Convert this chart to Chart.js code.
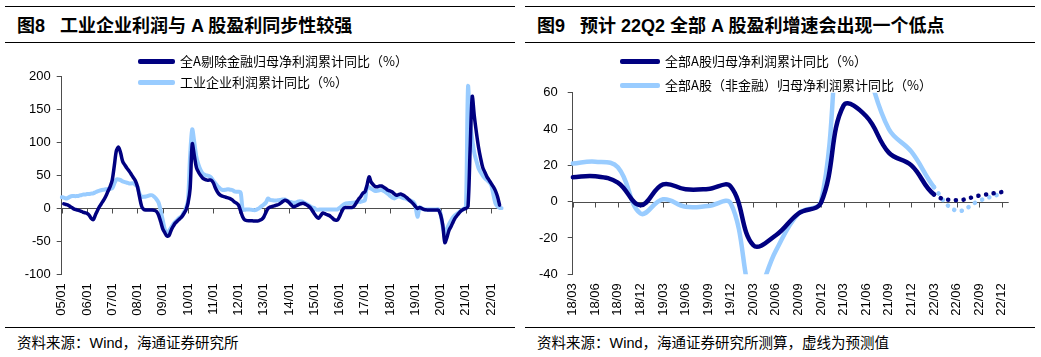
<!DOCTYPE html>
<html>
<head>
<meta charset="utf-8">
<script src="https://cdn.jsdelivr.net/npm/chart.js@4.4.1/dist/chart.umd.min.js"></script>
<style>
  html,body{margin:0;padding:0;background:#fff;}
  body{width:1041px;height:357px;position:relative;overflow:hidden;font-family:"Liberation Sans","Noto Sans CJK SC",sans-serif;}
  .hr{position:absolute;height:0;border-top:1.5px solid #000;}
  .title{position:absolute;font-weight:bold;font-size:18px;line-height:20px;white-space:nowrap;color:#000;}
  .foot{position:absolute;font-size:14.5px;line-height:18px;white-space:nowrap;color:#000;}
  canvas{position:absolute;}
  .leg{position:absolute;font-family:"Noto Sans CJK SC",sans-serif;font-size:13px;line-height:16px;white-space:nowrap;color:#000;}
  .sw{position:absolute;height:5px;border-radius:2px;}
</style>
</head>
<body>
<div class="hr" style="left:5px;top:6px;width:510px"></div>
<div class="hr" style="left:5px;top:42px;width:510px"></div>
<div class="title" style="left:17px;top:16px">图8<span style="margin-left:15px">工业企业利润与 A 股盈利同步性较强</span></div>
<div class="hr" style="left:525px;top:6px;width:510px"></div>
<div class="hr" style="left:525px;top:42px;width:510px"></div>
<div class="title" style="left:537px;top:16px">图9<span style="margin-left:15px">预计 22Q2 全部 A 股盈利增速会出现一个低点</span></div>

<canvas id="c1" width="520" height="282" style="left:0;top:45px"></canvas>
<canvas id="c2" width="521" height="282" style="left:520px;top:45px"></canvas>
<div id="leg1"></div>
<div id="leg2"></div>

<div class="hr" style="left:5px;top:327px;width:510px"></div>
<div class="foot" style="left:17px;top:334px">资料来源：Wind，海通证券研究所</div>
<div class="hr" style="left:525px;top:327px;width:510px"></div>
<div class="foot" style="left:537px;top:334px">资料来源：Wind，海通证券研究所测算，虚线为预测值</div>

<script>
// ---------- Left chart data (monthly, 05/01 .. 22/06) ----------
const leftTickLabels = ['05/01','06/01','07/01','08/01','09/01','10/01','11/01','12/01','13/01','14/01','15/01','16/01','17/01','18/01','19/01','20/01','21/01','22/01'];
const leftMonths = [];
for (let y = 5; y <= 22; y++) {
  for (let m = 1; m <= 12; m++) {
    if (y === 22 && m > 6) break;
    leftMonths.push(String(y).padStart(2,'0') + '/' + String(m).padStart(2,'0'));
  }
}
const leftSeriesNames = ['全A剔除金融归母净利润累计同比（%）', '工业企业利润累计同比（%）'];
const aShareExFin = [
  null, 7, 6, 5, 3, 1, -1, -2, -3, -4, -5.5, -6.5,            // 2005
  -7.5, -10, -15, -17, -10, -3, 3, 8, 13, 19, 26, 33,          // 2006
  43, 65, 88, 93, 84, 71, 66, 61, 57, 52, 47, 42,              // 2007
  33, 17, 3, -1.5, -2.5, -2.5, -2.5, -2.5, -3, -4.5, -10, -20, // 2008
  -31, -37, -42, -41, -33, -27, -22, -19, -16, -12.7, -8, -2.5,// 2009
  8, 30, 98, 80, 62, 55, 50, 46, 44, 43, 43, 43,               // 2010
  39, 31, 25, 21, 19, 18, 17, 16, 15, 13, 10, 8,               // 2011
  5, -4, -13, -17.5, -18.5, -18.7, -18.7, -19, -19, -19, -18, -16.5, // 2012
  -13, -6, 0, 2, 3, 4, 5, 6, 8, 10.5, 12.5, 11.5,              // 2013
  9, 5.5, 2.5, 3.5, 5, 6.5, 7.5, 7.6, 6, 4, 1.5, -3,           // 2014
  -8, -12.5, -15, -11, -7, -8, -9.5, -10.5, -13, -16, -17.7, -17.5, // 2015
  -12, -5, 0.5, 1.5, 1.5, 1.5, 1.5, 4, 9, 14, 17.7, 23,        // 2016
  25, 35, 48, 40, 36, 33, 33, 34, 34, 32, 30, 27.5,            // 2017
  26.5, 25, 22, 20, 21, 21.8, 20.5, 18.7, 16, 13, 10, 7,       // 2018
  3, 0, 1.5, 0, -1.5, -2, -2.5, -2.5, -2.5, -2.5, -2.5, -2.5,  // 2019
  -10, -25, -52, -44, -33, -27, -20, -14, -10, -6, -3, -1,     // 2020
  0, 3, 90, 170, 140, 115, 93, 76, 62, 55, 48, 43,             // 2021
  38, 33, 27, 18, 5, null                                      // 2022
];
const industrialProfit = [
  17, 16.5, 15, 16, 18, 19, 18.7, 18.7, 19, 20, 21, 21,        // 2005
  21.8, 22, 22.5, 23, 24.5, 26, 27, 28, 28.5, 29, 29.5, 30,    // 2006
  30.5, 38, 44, 44, 43, 41, 40, 39, 38, 38, 38, 36,            // 2007
  33, 22, 17.7, 17.7, 18, 19, 20, 20, 17.5, 14, 9, -3,         // 2008
  -18, -32, -38, -34, -29, -24, -20, -17, -14, -12, -6, 0,     // 2009
  12, 80, 120, 100, 78, 66, 58, 53, 51, 50, 49, 47,            // 2010
  42, 38, 34, 31, 28.5, 28, 28.5, 29, 28.5, 28, 26, 25.3,      // 2011
  25.3, 24, -2, -2, -1.5, -1.5, -2, -2.5, -2.5, -1, 1, 3.5,    // 2012
  6, 9, 15, 13, 12.5, 12, 12, 12.5, 13, 13.5, 13.5, 12,        // 2013
  10.5, 9.5, 8.6, 8.6, 10, 11, 10.5, 9, 7.6, 5.5, 3.5, 1.5,    // 2014
  0.5, -2, -2, -1.5, -1.5, -1.5, -1.5, -1.5, -1.5, -1.5, -1.5, -1.5, // 2015
  1, 3.5, 6, 7.6, 8, 8.3, 8.6, 9, 9.5, 10, 10, 11,             // 2016
  12, 33, 32, 30, 28, 26.5, 27, 27.5, 28, 26.5, 24.5, 22,      // 2017
  19, 16.5, 15.2, 17, 18.7, 17.5, 16, 15.2, 14, 12.5, 11.5, 10,// 2018
  4, -12.7, 1.5, 0, -1.5, -1.5, -1.5, -1.5, -1.5, -1.5, -1.5, -1.5, // 2019
  -8, -28, -38, -31, -24, -18, -13, -10, -7.6, -5, -2.5, -0.5, // 2020
  1.5, 185, 132, 105, 84, 72, 61, 55, 50, 46, 43, 40,          // 2021
  36, 22, 8, 3, 1, 0.5                                         // 2022
];

// ---------- Right chart data (quarterly, 18/03 .. 22/12) ----------
const rightQuarters = ['18/03','18/06','18/09','18/12','19/03','19/06','19/09','19/12','20/03','20/06','20/09','20/12','21/03','21/06','21/09','21/12','22/03','22/06','22/09','22/12'];
const rightSeriesNames = ['全部A股归母净利润累计同比（%）', '全部A股（非金融）归母净利润累计同比（%）'];
const allAShare = [13.5, 14, 10.5, -2, 9.5, 6.8, 7, 8.3, -24, -18.5, -6.5, -0.5, 53, 47, 27, 20, 4, 0.8, 3.3, 5.3];
const allAShareNonFin = [21, 22, 19, -6.5, 1.3, -2.8, -2.4, -1, -52, -27, -6.5, 0, 110, 75, 40, 27.5, 8, -5, 0.5, 4.5];
const forecastFrom = '22/03';

const DARK = '#000080', LIGHT = '#99ccff', AXIS = '#4d4d4d';

const zeroAxis = {
  id: 'zeroAxis',
  beforeDatasetsDraw(chart, args, opts) {
    const {ctx, chartArea, scales: {x, y}} = chart;
    const py = Math.round(y.getPixelForValue(0)) + 0.5;
    ctx.save();
    ctx.strokeStyle = AXIS; ctx.lineWidth = 1;
    ctx.beginPath();
    ctx.moveTo(chartArea.left, py);
    ctx.lineTo(chartArea.right + (opts.extra || 0), py);
    (opts.ticks || []).forEach(i => {
      const px = Math.round(x.getPixelForValue(i)) + 0.5;
      ctx.moveTo(px, py); ctx.lineTo(px, py + 5);
    });
    ctx.stroke();
    ctx.restore();
  }
};

function commonOpts(cfg) {
  return {
    responsive: false, animation: false, devicePixelRatio: 1,
    layout: {padding: cfg.padding},
    plugins: {legend: {display: false}, tooltip: {enabled: false}, zeroAxis: cfg.zero},
    elements: {point: {radius: 0}, line: {borderCapStyle: 'round', borderJoinStyle: 'round'}},
    scales: {
      x: {
        type: 'category', offset: false,
        border: {display: false}, grid: {display: false, drawTicks: false},
        ticks: {autoSkip: false, minRotation: 90, maxRotation: 90, padding: 9, color: '#000',
                font: {family: 'Liberation Sans', size: 13}, callback: cfg.xcb},
        afterFit: s => { s.height = cfg.xh; }
      },
      y: {
        min: cfg.min, max: cfg.max,
        border: {display: true, color: AXIS, width: 1},
        grid: {drawOnChartArea: false, drawTicks: true, tickLength: 5, color: AXIS},
        ticks: {stepSize: cfg.step, padding: cfg.ypad, color: '#000', font: {family: 'Liberation Sans', size: 13}},
        afterFit: s => { s.width = cfg.yw; }
      }
    }
  };
}

const yearTickIdx = leftTickLabels.map(l => leftMonths.indexOf(l));
const chart1 = new Chart(document.getElementById('c1'), {
  type: 'line',
  data: {
    labels: leftMonths,
    datasets: [
      {label: leftSeriesNames[0], data: aShareExFin, borderColor: DARK, backgroundColor: DARK, borderWidth: 3.5, tension: 0.3},
      {label: leftSeriesNames[1], data: industrialProfit, borderColor: LIGHT, backgroundColor: LIGHT, borderWidth: 4, tension: 0.3}
    ]
  },
  options: commonOpts({
    padding: {top: 31.7, right: 18.3, bottom: 0, left: 0},
    zero: {ticks: yearTickIdx, extra: 0},
    xcb: function(v, i) { return leftTickLabels.includes(leftMonths[i]) ? leftMonths[i] : null; },
    xh: 52.7, min: -100, max: 200, step: 50, ypad: 6, yw: 61.7
  }),
  plugins: [zeroAxis]
});

const fIdx = rightQuarters.indexOf(forecastFrom);
const dotted = ctx => ctx.p0DataIndex >= fIdx ? [0.1, 7.6] : [];
const chart2 = new Chart(document.getElementById('c2'), {
  type: 'line',
  data: {
    labels: rightQuarters,
    datasets: [
      {label: rightSeriesNames[0], data: allAShare, borderColor: DARK, backgroundColor: DARK, borderWidth: 4.5, tension: 0.4, segment: {borderDash: dotted}},
      {label: rightSeriesNames[1], data: allAShareNonFin, borderColor: LIGHT, backgroundColor: LIGHT, borderWidth: 4.5, tension: 0.4, segment: {borderDash: dotted}}
    ]
  },
  options: commonOpts({
    padding: {top: 47.7, right: 39.3, bottom: 0, left: 0},
    zero: {ticks: rightQuarters.map((q, i) => i), extra: 7},
    xcb: function(v, i) { return rightQuarters[i]; },
    xh: 52.7, min: -40, max: 60, step: 20, ypad: 10, yw: 52.7
  }),
  plugins: [zeroAxis]
});

// HTML legends built from the chart datasets
function buildLegend(chart, el, x0, swW, rows) {
  chart.data.datasets.forEach((ds, i) => {
    const sw = document.createElement('div');
    sw.className = 'sw';
    sw.style.left = x0 + 'px'; sw.style.top = (rows[i] - 2.5) + 'px'; sw.style.width = swW + 'px';
    sw.style.background = ds.borderColor;
    el.appendChild(sw);
    const t = document.createElement('div');
    t.className = 'leg';
    t.style.left = (x0 + swW + 5) + 'px'; t.style.top = (rows[i] - 8.5) + 'px';
    t.textContent = ds.label;
    el.appendChild(t);
  });
}
buildLegend(chart1, document.getElementById('leg1'), 138, 37, [61.7, 82.7]);
buildLegend(chart2, document.getElementById('leg2'), 620, 40, [61.7, 85.7]);
</script>
</body>
</html>
